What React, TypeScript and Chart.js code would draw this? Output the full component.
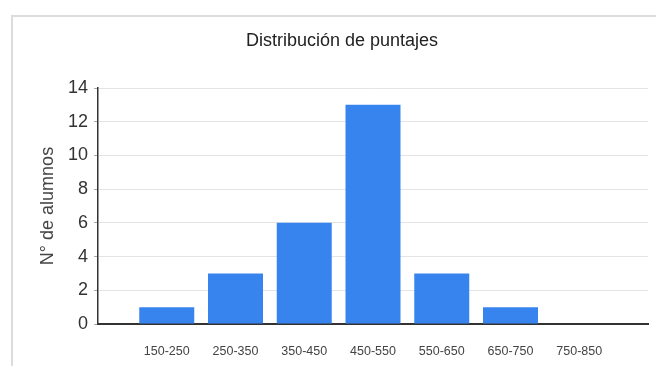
import React, { useEffect, useRef } from "react";
import { Chart, registerables } from "chart.js";

Chart.register(...registerables);

const chartTitle = "Distribución de puntajes";
const yAxisTitle = "N° de alumnos";
const categories = ["150-250", "250-350", "350-450", "450-550", "550-650", "650-750", "750-850"];
const studentCounts = [1, 3, 6, 13, 3, 1, 0];
const yMin = 0;
const yMax = 14;
const yStep = 2;

const SANS = "'Liberation Sans', Arial, sans-serif";

export default function App() {
  const ref = useRef<HTMLCanvasElement | null>(null);

  useEffect(() => {
    if (!ref.current) return;
    // pad with empty slots on both ends so bars sit at integer positions of a 0..8 range
    const labels = ["", ...categories, ""];
    const data = [null, ...studentCounts, null];
    const chart = new Chart(ref.current, {
      type: "bar",
      data: {
        labels,
        datasets: [
          {
            label: yAxisTitle,
            data,
            backgroundColor: "#3884ee",
            borderWidth: 0,
            barPercentage: 0.8,
            categoryPercentage: 1,
          },
        ],
      },
      options: {
        animation: false,
        responsive: false,
        maintainAspectRatio: false,
        layout: { padding: { left: 36, right: 8, top: 0, bottom: 0 } },
        plugins: {
          legend: { display: false },
          tooltip: { enabled: false },
          title: {
            display: true,
            text: chartTitle,
            color: "#222",
            font: { family: SANS, size: 18, weight: "normal" },
            padding: { top: 30, bottom: 36.4 },
          },
        },
        scales: {
          x: {
            offset: false,
            grid: { display: false },
            border: { display: true, color: "#333", width: 2 },
            ticks: {
              autoSkip: false,
              maxRotation: 0,
              color: "#444",
              padding: 12,
              font: { family: SANS, size: 12.5 },
            },
            afterFit: (s: any) => {
              s.height = 42;
              s.paddingLeft = 0;
              s.paddingRight = 0;
            },
          },
          y: {
            min: yMin,
            max: yMax,
            ticks: {
              stepSize: yStep,
              color: "#333",
              padding: 6,
              font: { family: SANS, size: 18 },
            },
            grid: { color: "#e4e4e4", tickLength: 4, tickColor: "#aaa" },
            border: { display: true, color: "#333", width: 1.5 },
            title: {
              display: true,
              text: yAxisTitle,
              color: "#444",
              font: { family: SANS, size: 18 },
              padding: { top: 1, bottom: 0 },
            },
            afterFit: (s: any) => {
              s.width = 62;
            },
          },
        },
      },
    });
    return () => chart.destroy();
  }, []);

  return (
    <div style={{ position: "absolute", left: 0, top: 0, width: 656, height: 366, overflow: "hidden", background: "#fff" }}>
      <div
        style={{
          position: "absolute",
          left: 11,
          top: 15,
          width: 700,
          height: 400,
          border: "2px solid #dcdcdc",
          boxSizing: "border-box",
        }}
      />
      <canvas ref={ref} width={656} height={366} style={{ position: "absolute", left: 0, top: 0, width: 656, height: 366 }} />
    </div>
  );
}
